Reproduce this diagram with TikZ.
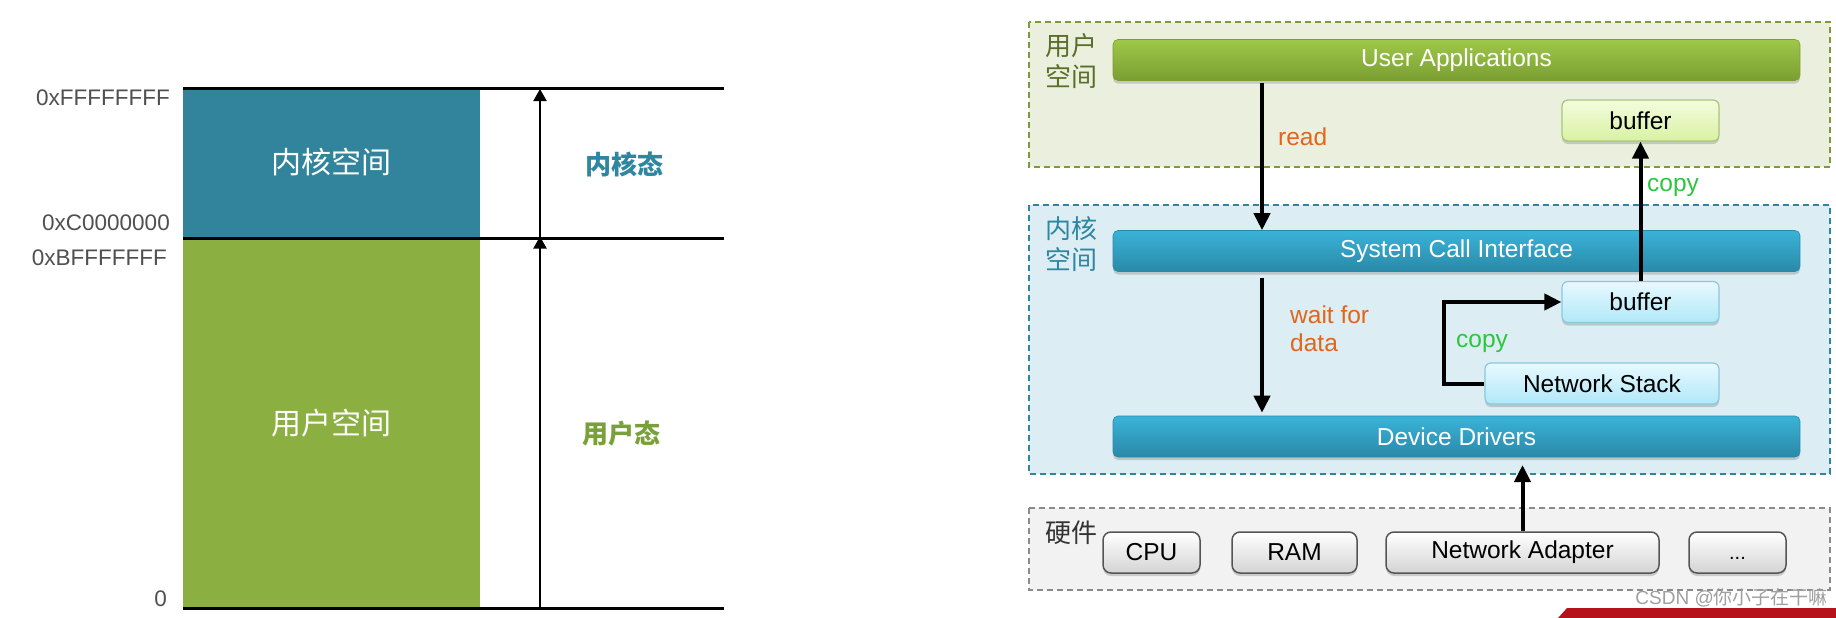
\documentclass[tikz,border=0pt]{standalone}
\usepackage{fontspec}
\setmainfont{Liberation Sans}
\newfontfamily\cjk{Noto Sans CJK SC}
\usetikzlibrary{arrows.meta,shadows}
\definecolor{kspace}{HTML}{31849B}
\definecolor{uspace}{HTML}{8CAF42}
\definecolor{hexgray}{HTML}{505050}
\definecolor{kteal}{HTML}{2E86A0}
\definecolor{ugreen}{HTML}{7AA03A}
\definecolor{ugtop}{HTML}{9FC848}
\definecolor{ugbot}{HTML}{7A9E32}
\definecolor{kbtop}{HTML}{3AB3D8}
\definecolor{kbbot}{HTML}{2A89A8}
\definecolor{lbtop}{HTML}{E8F9FF}
\definecolor{lbbot}{HTML}{B0E8F8}
\definecolor{lbdraw}{HTML}{8CC8DC}
\definecolor{lgtop}{HTML}{F4FCDF}
\definecolor{lgbot}{HTML}{D8F2A2}
\definecolor{lgdraw}{HTML}{A8C67A}
\definecolor{hwbot}{HTML}{D4D4D4}
\definecolor{hwdraw}{HTML}{555555}
\definecolor{ufill}{HTML}{EBEFDD}
\definecolor{udraw}{HTML}{7D9A3A}
\definecolor{kfill}{HTML}{DCEDF3}
\definecolor{kdraw}{HTML}{2E86A0}
\definecolor{hfill}{HTML}{F2F2F2}
\definecolor{hdraw}{HTML}{8A8A8A}
\definecolor{readorange}{HTML}{E0661A}
\definecolor{copygreen}{HTML}{2CC63E}
\definecolor{ulabel}{HTML}{5A6E2A}
\definecolor{banner}{HTML}{B5121B}
\begin{document}
\begin{tikzpicture}[x=1pt,y=-1pt,
  shadowed/.style={drop shadow={opacity=0.35,shadow xshift=0pt,shadow yshift=-3pt}},
  bar/.style={shadowed, rounded corners=5pt, minimum width=687pt, minimum height=41pt, inner sep=0pt, text=white, font=\fontsize{24.5}{29}\selectfont, line width=0.6pt},
  greenbar/.style={bar, top color=ugtop, bottom color=ugbot, draw=ugbot},
  bluebar/.style={bar, top color=kbtop, bottom color=kbbot, draw=kbbot},
  smallbox/.style={shadowed, rounded corners=6pt, minimum height=41pt, inner sep=0pt, font=\fontsize{24.5}{29}\selectfont, line width=1.2pt},
  lbbox/.style={smallbox, top color=lbtop, bottom color=lbbot, draw=lbdraw},
  lgbox/.style={smallbox, top color=lgtop, bottom color=lgbot, draw=lgdraw},
  hwbox/.style={smallbox, top color=white, bottom color=hwbot, draw=hwdraw, line width=1.5pt, rounded corners=8pt},
  region/.style={line width=1.4pt, dash pattern=on 6pt off 4pt},
  bigarrow/.style={line width=4pt, -{Triangle[length=17pt,width=16pt]}},
  thinarrow/.style={line width=2pt, -{Triangle[length=12pt,width=13pt]}},
  hexlabel/.style={anchor=east, text=hexgray, inner sep=0pt, font=\fontsize{22.5}{26}\selectfont},
  lbl/.style={anchor=west, inner sep=0pt, font=\fontsize{24.5}{28}\selectfont},
  cjklbl/.style={inner sep=0pt, align=left, font=\cjk\fontsize{26}{31}\selectfont},
]
\useasboundingbox (0,0) rectangle (1836,618);
\fill[white] (0,0) rectangle (1836,618);

% ---------- left panel ----------
\node[fill=kspace, minimum width=297pt, minimum height=151pt, inner sep=0pt, text=white, font=\cjk\fontsize{30}{34}\selectfont] (ks) at (331.5,162.5) {内核空间};
\node[fill=uspace, minimum width=297pt, minimum height=370pt, inner sep=0pt, text=white, font=\cjk\fontsize{30}{34}\selectfont] (us) at (331.5,423) {用户空间};
\coordinate (ltop) at (183,88);
\coordinate (lmid) at (183,238);
\coordinate (lbot) at (183,608);
\coordinate (rtop) at (724,88);
\coordinate (rmid) at (724,238);
\coordinate (rbot) at (724,608);
\coordinate (atop) at (540,89);
\coordinate (amid) at (540,238);
\coordinate (abot) at (540,608);
\draw[line width=3pt] (ltop) -- (rtop);
\draw[line width=3pt] (lmid) -- (rmid);
\draw[line width=3pt] (lbot) -- (rbot);
\draw[thinarrow] ([yshift=1.5pt]amid) -- (atop);
\draw[thinarrow] (abot) -- ([yshift=1.5pt]amid);
\node[hexlabel] (hf) at (170,98) {0xFFFFFFFF};
\node[hexlabel] (hc) at (170,223) {0xC0000000};
\node[hexlabel] (hb) at (167,258) {0xBFFFFFFF};
\node[hexlabel] (hz) at (167,599) {0};
\node[text=kteal, font=\cjk\bfseries\fontsize{26}{30}\selectfont] (kstate) at (624,164) {内核态};
\node[text=ugreen, font=\cjk\bfseries\fontsize{26}{30}\selectfont] (ustate) at (621,434) {用户态};

% ---------- right panel: regions ----------
\draw[region, draw=udraw, fill=ufill] (1029,22) rectangle (1830,167);
\draw[region, draw=kdraw, fill=kfill] (1029,205) rectangle (1830,474);
\draw[region, draw=hdraw, fill=hfill] (1029,508) rectangle (1830,590);
\node[cjklbl, text=ulabel] (ulab) at (1071,61.5) {用户\\空间};
\node[cjklbl, text=kteal] (klab) at (1071,244.5) {内核\\空间};
\node[cjklbl, text=black!80] (hlab) at (1071,533) {硬件};

% ---------- right panel: boxes ----------
\node[greenbar] (ua) at (1456.5,60) {User Applications};
\node[lgbox, minimum width=157pt] (ubuf) at (1640.5,120.5) {buffer};
\node[bluebar] (sci) at (1456.5,251) {System Call Interface};
\node[lbbox, minimum width=157pt] (kbuf) at (1640.5,302) {buffer};
\node[lbbox, minimum width=234pt] (ns) at (1602,383.5) {Network Stack};
\node[bluebar] (dd) at (1456.5,436.5) {Device Drivers};
\node[hwbox, minimum width=97pt] (cpu) at (1151.5,552.5) {CPU};
\node[hwbox, minimum width=125pt] (ram) at (1294.5,552.5) {RAM};
\node[hwbox, minimum width=273pt] (na) at (1522.5,552.5) {Network Adapter};
\node[hwbox, minimum width=97pt, text height=14pt, text depth=0pt, font=\fontsize{20}{24}\selectfont] (etc) at (1737.5,552.5) {...};

% ---------- right panel: connectors ----------
\coordinate (readx) at (1262,0);
\coordinate (hwtip) at (0,465);
\draw[bigarrow, shorten <=2pt] (ua.south -| readx) -- (sci.north -| readx);
\draw[bigarrow, shorten <=6pt, shorten >=3pt] (sci.south -| readx) -- (dd.north -| readx);
\draw[bigarrow] (kbuf.north) -- (ubuf.south);
\draw[bigarrow] (ns.west) -- ++(-40,0) |- (kbuf.west);
\draw[bigarrow] (na.north) -- (na.north |- hwtip);

\node[lbl, text=readorange] (lread) at (1278,137) {read};
\node[lbl, text=copygreen] (lcopy1) at (1647,187) {copy};
\node[lbl, text=readorange, align=left] (lwait) at (1290,329) {wait for\\data};
\node[lbl, text=copygreen] (lcopy2) at (1456,343) {copy};

% ---------- watermark ----------
\fill[banner] (1567,608) -- (1836,608) -- (1836,618) -- (1558,618) -- cycle;
\node[anchor=east, inner sep=0pt, text=gray!75, font=\fontsize{19}{22}\selectfont] (wm) at (1828,598) {CSDN @{\cjk 你小子在干嘛}};
\end{tikzpicture}
\end{document}
